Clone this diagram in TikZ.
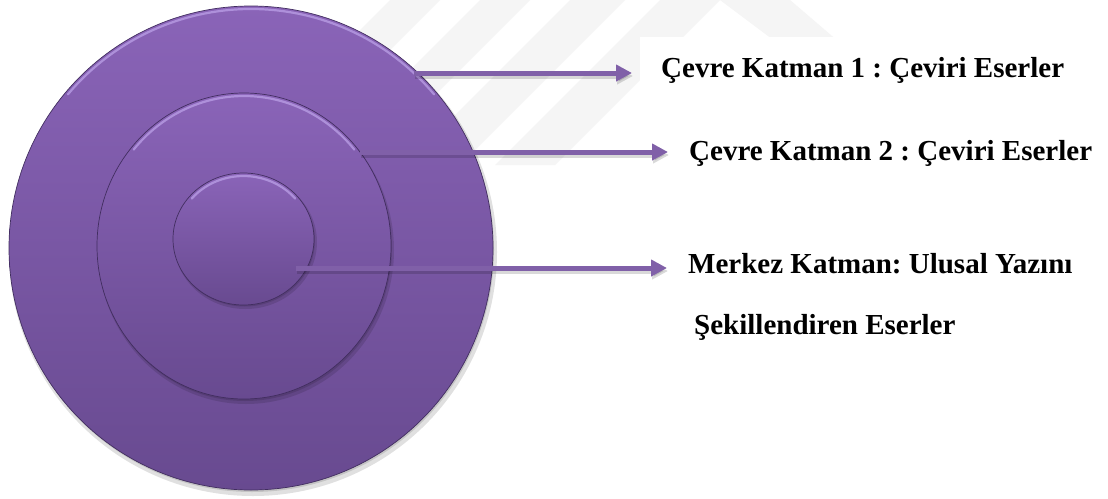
\documentclass[tikz,border=0pt]{standalone}
\usepackage{fontspec}
\setmainfont{Liberation Serif}
\frenchspacing
\usetikzlibrary{arrows.meta,shapes.geometric}
\definecolor{ptop}{RGB}{138,100,184}
\definecolor{pbot}{RGB}{104,74,144}
\definecolor{prim}{RGB}{190,164,234}
\definecolor{pedge}{RGB}{66,46,96}
\definecolor{arrc}{RGB}{128,96,168}
\begin{document}
\begin{tikzpicture}[x=1pt,y=-1pt,
  wm/.style={fill=black!4},
  disc/.style={ellipse, inner sep=0pt, top color=ptop, bottom color=pbot, draw=pedge, line width=0.7pt},
  shad/.style={fill=black, opacity=0.12},
  rim/.style={draw=prim, line width=2.2pt, line cap=round, opacity=0.7},
  arr/.style={draw=arrc, line width=5pt, -{Triangle[length=16pt,width=16pt]}},
  arrsh/.style={draw=black, opacity=0.15, line width=5pt, -{Triangle[length=16pt,width=16pt]}},
  lbl/.style={anchor=base west, font=\fontsize{29}{34}\selectfont\bfseries, inner sep=0pt}
]
\useasboundingbox (0,0) rectangle (1108,498);
\fill[white] (0,0) rectangle (1108,498);
% faint watermark stripes
\fill[wm] (390,0) -- (440,0) -- (270,170) -- (220,170) -- cycle;
\fill[wm] (480,0) -- (530,0) -- (350,180) -- (300,180) -- cycle;
\fill[wm] (570,0) -- (625,0) -- (455,170) -- (400,170) -- cycle;
\fill[wm] (660,0) -- (720,0) -- (555,165) -- (495,165) -- cycle;
\fill[wm] (720,0) -- (790,0) -- (860,60) -- (800,60) -- cycle;

% outer disc
\fill[shad] (253,252) ellipse [x radius=244, y radius=244];
\fill[shad] (252,250) ellipse [x radius=242, y radius=242];
\node[disc, minimum width=484pt, minimum height=484pt] (outer) at (251,248) {};
\draw[rim] (outer.center) ++(220:239 and 239) arc[start angle=220, end angle=320, x radius=239, y radius=239];

% middle disc
\fill[shad] (246,250) ellipse [x radius=148, y radius=154];
\fill[shad] (245,248) ellipse [x radius=147, y radius=153];
\node[disc, minimum width=294pt, minimum height=306pt] (middle) at (244,246) {};
\draw[rim] (middle.center) ++(220:144 and 150) arc[start angle=220, end angle=320, x radius=144, y radius=150];

% inner disc
\fill[shad] (245.5,242) ellipse [x radius=71.5, y radius=67];
\fill[shad] (244.5,240.5) ellipse [x radius=70.5, y radius=66];
\node[disc, minimum width=141pt, minimum height=132pt] (inner) at (243.5,239) {};
\draw[rim] (inner.center) ++(220:67.5 and 63) arc[start angle=220, end angle=320, x radius=67.5, y radius=63];

% arrow end points
\coordinate (a1s) at (414,73);  \coordinate (a1e) at (632,73);
\coordinate (a2s) at (360,152); \coordinate (a2e) at (668,152);
\coordinate (a3s) at (296,268); \coordinate (a3e) at (667,268);
\draw[arrsh] ([shift={(1,3)}]a1s) -- ([shift={(1,3)}]a1e);
\draw[arrsh] ([shift={(1,3)}]a2s) -- ([shift={(1,3)}]a2e);
\draw[arrsh] ([shift={(1,3)}]a3s) -- ([shift={(1,3)}]a3e);
\draw[arr] (a1s) -- (a1e);
\draw[arr] (a2s) -- (a2e);
\draw[arr] (a3s) -- (a3e);

% labels
\node[lbl, fill=white, inner xsep=21pt, inner ysep=0pt, text height=40pt, text depth=30pt] (t1) at (640,77) {Çevre Katman 1 : Çeviri Eserler};
\node[lbl] (t2) at (689,160) {Çevre Katman 2 : Çeviri Eserler};
\node[lbl] (t3) at (688,273) {Merkez Katman: Ulusal Yazını};
\node[lbl] (t4) at (694,334) {Şekillendiren Eserler};
\end{tikzpicture}
\end{document}
